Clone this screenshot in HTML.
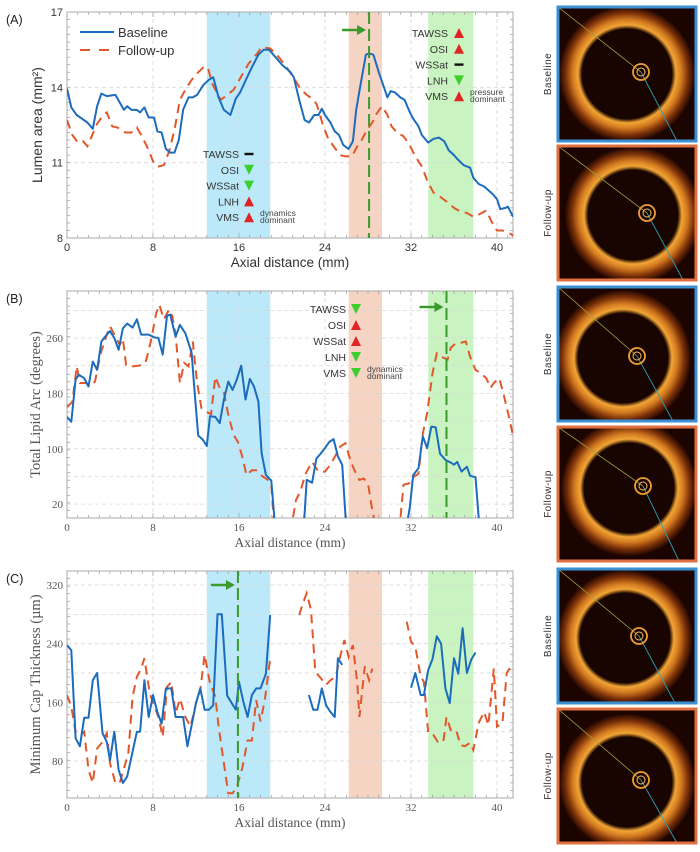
<!DOCTYPE html>
<html><head><meta charset="utf-8"><style>
html,body{margin:0;padding:0;background:#fff;}
svg{display:block;}
</style></head>
<body>
<svg id="fig" width="700" height="852" viewBox="0 0 700 852" xmlns="http://www.w3.org/2000/svg"></svg>
<script>
// ---- data ----
const aBaseX=[0,0.4,0.9,1.4,1.9,2.4,2.8,3.2,3.7,4.5,5.3,5.6,6,6.5,6.8,7.2,7.6,8.1,8.4,8.8,9.2,9.6,10,10.4,10.8,11.3,11.7,12.1,12.7,13.2,13.6,14.1,14.6,15.2,15.7,16.1,16.7,17.2,17.8,18.3,18.8,19.4,20,20.8,21.1,21.6,22.1,22.5,23,23.4,23.7,24,24.5,24.9,25.3,25.7,26.2,26.6,26.9,27.3,27.8,28.1,28.5,29,29.4,29.8,30.1,30.5,31,31.4,31.9,32.2,32.7,33,33.6,34.1,34.6,35.1,35.5,36,36.3,36.9,37.5,37.8,38.3,38.8,39.2,39.6,40,40.3,40.8,41,41.5];
const aBaseY=[13.95,13.2,12.9,12.75,12.6,12.35,13.25,13.75,13.65,13.7,13.1,13.25,13.1,13.1,13.0,13.2,12.8,12.8,12.25,12.2,11.55,11.4,11.4,11.9,13.1,13.6,13.6,13.7,14.1,14.3,14.4,13.6,13.1,12.9,13.55,13.8,14.35,14.8,15.3,15.5,15.5,15.2,14.9,14.6,14.4,13.5,12.7,12.6,12.9,12.9,13.15,12.9,12.6,12.25,12.1,11.7,11.55,11.85,13.1,14.1,15.3,15.35,15.3,14.6,14.1,13.6,13.85,13.8,13.6,13.5,13.0,12.75,12.45,12.1,11.8,11.95,12.0,11.85,11.5,11.3,11.15,10.9,10.8,10.4,10.15,10.05,9.9,9.75,9.55,9.15,9.2,9.25,8.85];
const aFollX=[0,0.5,1,1.5,1.9,2.3,2.8,3.3,3.7,4.2,4.7,5.4,6,6.5,6.9,7.6,8.1,8.5,9,9.5,10,10.5,11,11.6,12.2,12.7,13.1,13.5,14.3,14.9,15.5,16.1,16.9,17.7,18.1,18.9,19.4,19.9,20.5,21.2,21.7,22.3,22.8,23.2,23.4,23.8,24.3,24.8,25.4,25.9,26.5,27,27.4,27.9,28.4,28.8,29.3,29.8,30.2,30.7,31.3,31.8,32.4,33,33.5,34.1,34.7,35.3,36,36.6,37.2,37.8,38.4,39,39.5,40,40.5,41.1,41.5];
const aFollY=[12.7,12.1,11.8,11.85,11.65,12.05,12.55,12.85,13.0,12.45,12.4,12.2,12.2,12.4,12.1,11.5,10.95,10.85,10.9,11.45,12.3,13.5,13.9,14.3,14.6,14.8,14.8,14.15,13.5,13.7,13.9,14.35,14.95,15.35,15.6,15.55,15.35,15.1,14.75,14.3,13.95,13.7,13.55,13.35,13.1,12.5,11.95,11.65,11.3,11.25,11.25,11.65,11.9,12.3,12.6,12.95,13.25,12.9,12.45,12.2,12.05,11.75,11.25,10.85,10.3,9.8,9.65,9.45,9.2,9.05,9.0,8.85,8.95,9.1,8.65,8.3,8.3,8.2,8.1];

const bBaseX=[0,0.4,0.8,1.1,1.6,2.0,2.4,2.8,3.2,3.7,4.0,4.4,4.8,5.2,5.6,6.1,6.5,6.9,7.6,8.1,8.5,8.9,9.3,9.6,10.1,10.5,11.0,11.4,11.6,11.8,12.2,12.6,13,13.3,13.8,14.2,14.6,15.0,15.4,15.8,16.2,16.6,17.0,17.4,17.8,18.1,18.5,19.0,19.4,20,22,22.3,22.8,23.2,23.6,24,24.4,24.8,25.2,25.6,26.0,28,31.5,31.9,32.2,32.7,33.1,33.5,33.9,34.3,34.7,35.2,35.7,36.0,36.3,36.7,37.2,37.5,38.0,38.4];
const bBaseY=[146,139,200,207,202,190,226,214,255,265,270,260,243,274,281,275,287,265,265,261,260,236,292,294,262,279,267,248,238,195,119,114,104,147,146,137,171,197,185,200,220,171,201,190,168,94,62,54,-20,null,-20,55,51,86,93,101,110,114,89,77,-20,null,-20,16,62,72,118,101,132,131,93,84,80,77,81,67,74,61,59,-20];
const bFollX=[0,0.5,0.9,1.2,1.7,2.2,2.6,3.1,3.6,4.0,4.5,4.9,5.2,5.5,6.0,6.7,7.3,7.8,8.3,8.6,9.0,9.5,9.8,10.1,10.5,10.9,11.3,11.7,12.1,12.5,12.9,13.4,13.8,14.2,14.6,15.0,15.5,15.9,16.3,16.7,17.2,17.6,18.2,18.6,19.0,19.3,20,20.8,21.3,21.7,22.2,22.8,23.4,24.0,24.5,25.0,25.4,25.9,26.4,26.8,27.2,27.6,28.0,28.4,28.8,30,30.9,31.3,31.8,32.3,32.7,33.1,33.5,34.0,34.4,34.8,35.4,35.7,36.2,36.6,37.1,37.5,38.0,38.5,39.0,39.4,39.7,40.2,40.6,41.1,41.5];
const bFollY=[160,168,219,195,195,192,197,236,260,277,262,250,259,221,219,220,224,255,296,308,287,301,291,265,195,224,219,255,195,159,154,150,204,188,181,149,120,110,89,62,69,69,60,56,48,-20,null,-20,26,38,64,81,67,67,77,91,103,108,81,67,55,57,50,11,-20,null,-20,48,50,60,64,122,151,209,238,233,229,246,253,253,255,233,214,209,202,188,195,202,180,147,118];

const cBaseX=[0,0.4,0.8,1.2,1.6,2.0,2.4,2.8,3.3,3.7,4.0,4.4,4.8,5.2,5.6,6.0,6.5,6.8,7.2,7.6,8.0,8.4,8.8,9.2,9.7,10.1,10.8,11.2,11.6,12.0,12.4,12.8,13.2,13.6,14.0,14.4,14.9,15.7,16.0,16.4,16.8,17.2,17.6,18.0,18.5,18.9,20,22.5,22.9,23.3,23.7,24.1,24.5,24.9,25.2,25.6,28,32.0,32.4,32.9,33.2,33.6,34.0,34.4,34.8,35.2,35.6,36.0,36.4,36.8,37.2,37.6,38.0];
const cBaseY=[238,231,111,100,139,139,190,200,118,106,81,120,68,50,59,86,120,120,190,140,170,147,131,179,179,140,140,100,129,159,179,150,150,156,280,280,169,150,188,161,140,170,179,179,199,279,null,170,150,150,179,156,147,140,220,211,null,180,200,170,170,204,219,250,240,179,159,220,199,261,200,218,228];
const cFollX=[0,0.4,0.8,1.2,1.6,2.0,2.4,2.8,3.3,3.7,4.0,4.5,4.9,5.3,5.7,6.1,6.5,6.9,7.2,7.7,8.1,8.5,8.9,9.3,9.7,10.1,10.5,11.0,11.5,12.0,12.4,12.8,13.3,13.8,14.1,14.5,15.0,15.4,15.8,16.3,16.8,17.2,17.6,18.0,18.4,18.9,20,21.6,21.9,22.3,22.7,23.1,23.6,24.1,24.5,25.0,25.4,25.8,26.2,26.6,27.0,27.2,27.7,28.1,28.4,30,31.6,32.0,32.4,32.9,33.2,33.6,34.1,34.5,35.0,35.3,35.7,36.2,36.6,37.0,37.5,37.8,38.3,38.8,39.2,39.7,40.0,40.5,40.9,41.3];
const cFollY=[170,154,120,115,120,68,50,97,106,118,77,50,50,70,90,168,195,206,220,172,156,140,113,181,188,145,165,140,127,159,177,225,186,168,127,86,36,36,45,70,108,108,163,134,163,220,null,279,293,309,286,202,193,184,190,195,222,245,222,238,186,140,209,190,206,null,270,243,236,195,188,118,115,106,106,140,122,122,102,100,105,95,132,147,129,206,127,131,200,209];

const aTicks=[8,11,14,17];
const bTicks=[20,100,180,260];
const cTicks=[80,160,240,320];
const xTicks=[0,8,16,24,32,40];

// ---- helpers ----
const NS="http://www.w3.org/2000/svg";
const svg=document.getElementById('fig');
function el(tag,attrs,parent,text){const e=document.createElementNS(NS,tag);for(const k in attrs)e.setAttribute(k,attrs[k]);if(text!==undefined)e.textContent=text;(parent||svg).appendChild(e);return e;}
const X0=67,PX=10.75,XR=513;
function xs(v){return X0+v*PX;}
const panels=[
 {id:'a',top:12,bot:238,lo:8,hi:17,ticks:aTicks,grid:[8,11,14,17],font:'sans',ytitle:'Lumen area (mm²)',bx:aBaseX,by:aBaseY,fx:aFollX,fy:aFollY,label:'(A)'},
 {id:'b',top:291,bot:518,lo:0,hi:20+(504-291)/0.6917,ticks:bTicks,grid:[20,60,100,140,180,220,260,300],font:'serif',ytitle:'Total Lipid Arc (degrees)',bx:bBaseX,by:bBaseY,fx:bFollX,fy:bFollY,label:'(B)'},
 {id:'c',top:571,bot:798,lo:80-(798-761)/0.7333,hi:80+(761-571)/0.7333,ticks:cTicks,grid:[80,120,160,200,240,280,320],font:'serif',ytitle:'Minimum Cap Thickness (µm)',bx:cBaseX,by:cBaseY,fx:cFollX,fy:cFollY,label:'(C)'}
];
panels.forEach(p=>{p.ys=v=>p.bot-(v-p.lo)/(p.hi-p.lo)*(p.bot-p.top);});

const bands=[[13,18.9,'#bce9f9','band-blue'],[26.2,29.3,'#f6d4c4','band-salmon'],[33.6,37.8,'#caf3c2','band-green']];

panels.forEach(p=>{
 const g=el('g',{});
 
 
 const clip=el('clipPath',{id:'clip'+p.id},g);
 el('rect',{x:X0,y:p.top,width:XR-X0,height:p.bot-p.top},clip);
 bands.forEach(b=>{
  const r=el('rect',{x:xs(b[0]),y:p.top,width:xs(b[1])-xs(b[0]),height:p.bot-p.top,fill:b[2]},g);
  
  
 });
 xTicks.forEach(t=>{if(t>0)el('line',{x1:xs(t),x2:xs(t),y1:p.top,y2:p.bot,stroke:'#d8d8d8','stroke-dasharray':'4,3','stroke-width':0.8},g);});
 p.grid.forEach(t=>{el('line',{x1:X0,x2:XR,y1:p.ys(t),y2:p.ys(t),stroke:'#d8d8d8','stroke-dasharray':'4,3','stroke-width':0.8},g);});
 for(let m=0;m<=41.5;m+=1){const L=(m%8===0)?5:3;el('line',{x1:xs(m),x2:xs(m),y1:p.bot,y2:p.bot-L,stroke:'#999','stroke-width':0.7},g);el('line',{x1:xs(m),x2:xs(m),y1:p.top,y2:p.top+L,stroke:'#999','stroke-width':0.7},g);}
 for(let k=0;k<=30;k++){const y=p.top+k*(p.bot-p.top)/30;el('line',{x1:X0,x2:X0+3,y1:y,y2:y,stroke:'#999','stroke-width':0.7},g);el('line',{x1:XR,x2:XR-3,y1:y,y2:y,stroke:'#999','stroke-width':0.7},g);}
 el('rect',{x:X0,y:p.top,width:XR-X0,height:p.bot-p.top,fill:'none',stroke:'#aaa','stroke-width':1},g);
 function path(xsArr,ysArr){let d='',pen=false;for(let i=0;i<xsArr.length;i++){const v=ysArr[i];if(v===null){pen=false;continue;}d+=(pen?'L':'M')+xs(xsArr[i]).toFixed(1)+','+p.ys(v).toFixed(1);pen=true;}return d;}
 const fl=el('path',{d:path(p.fx,p.fy),fill:'none',stroke:'#e2572a','stroke-width':2,'stroke-dasharray':'9,6','clip-path':'url(#clip'+p.id+')'},g);
 
 
 const bl=el('path',{d:path(p.bx,p.by),fill:'none',stroke:'#1b6cbd','stroke-width':2,'stroke-linejoin':'round','clip-path':'url(#clip'+p.id+')'},g);
 
 
 const fam=p.font==='sans'?'Liberation Sans, sans-serif':'Liberation Serif, serif';
 const col=p.font==='sans'?'#333':'#555';
 xTicks.forEach(t=>{const tx=el('text',{x:xs(t),y:p.bot+13,'text-anchor':'middle','font-size':11,'font-family':fam,fill:col},g,String(t));
  
  });
 p.ticks.forEach(t=>{const tx=el('text',{x:X0-4,y:p.ys(t)+4,'text-anchor':'end','font-size':11,'font-family':fam,fill:col},g,String(t));
  
  });
 const xt=el('text',{x:290,y:p.bot+29,'text-anchor':'middle','font-size':13.5,'font-family':fam,fill:col},g,'Axial distance (mm)');
 
 
 const cy=(p.top+p.bot)/2;
 const yt=el('text',{x:0,y:0,transform:'translate('+(p.id==='a'?42:40)+','+cy+') rotate(-90)','text-anchor':'middle','font-size':p.id==='a'?14:14.5,'font-family':fam,fill:col},g,p.ytitle);
 
 
 const lb=el('text',{x:6,y:p.top+12,'font-size':12.5,'font-family':'Liberation Sans, sans-serif',fill:'#222'},g,p.label);
 
 
});

// legend (panel A)
const lg=el('g',{});


el('line',{x1:80,x2:114,y1:32,y2:32,stroke:'#1b6cbd','stroke-width':2},lg);
el('text',{x:118,y:37,'font-size':13,'font-family':'Liberation Sans, sans-serif',fill:'#333'},lg,'Baseline');
el('line',{x1:80,x2:114,y1:50,y2:50,stroke:'#e2572a','stroke-width':2,'stroke-dasharray':'10,9'},lg);
el('text',{x:118,y:55,'font-size':13,'font-family':'Liberation Sans, sans-serif',fill:'#333'},lg,'Follow-up');

function vmark(mm,top,bot,ay){
 const g=el('g',{});
 
 
 el('line',{x1:xs(mm),x2:xs(mm),y1:top,y2:bot,stroke:'#3a9a2c','stroke-width':2,'stroke-dasharray':'12,5'},g);
 const x=xs(mm)-3;
 el('line',{x1:x-24,x2:x-7,y1:ay,y2:ay,stroke:'#3a9a2c','stroke-width':2.5},g);
 el('polygon',{points:(x-9)+','+(ay-5)+' '+x+','+ay+' '+(x-9)+','+(ay+5),fill:'#3a9a2c'},g);
}
vmark(28.1,12,238,30);
vmark(35.3,291,518,307);
vmark(15.9,571,798,585);

function tri(g,x,y,kind){
 if(kind==='up')el('polygon',{points:(x-5)+','+(y+5)+' '+(x+5)+','+(y+5)+' '+x+','+(y-5),fill:'#e02424'},g);
 else if(kind==='down')el('polygon',{points:(x-5)+','+(y-5)+' '+(x+5)+','+(y-5)+' '+x+','+(y+5),fill:'#3ccf2e'},g);
 else el('rect',{x:x-4.5,y:y-1.2,width:9,height:2.4,fill:'#111'},g);
}
function alist(tx,mx,y0,dy,kinds,note){
 const g=el('g',{});
 
 
 const names=['TAWSS','OSI','WSSat','LNH','VMS'];
 names.forEach((n,i)=>{const y=y0+i*dy;el('text',{x:tx,y:y+4,'text-anchor':'end','font-size':10.5,'font-family':'Liberation Sans, sans-serif',fill:'#333'},g,n);tri(g,mx,y,kinds[i]);});
 const yl=y0+4*dy;
 el('text',{x:mx+11,y:yl-1,'font-size':8.5,'font-family':'Liberation Sans, sans-serif',fill:'#444'},g,note[0]);
 el('text',{x:mx+11,y:yl+6,'font-size':8.5,'font-family':'Liberation Sans, sans-serif',fill:'#444'},g,note[1]);
}
alist(239,249,154,15.8,['dash','down','down','up','up'],['dynamics','dominant']);
alist(448,459,33,15.8,['up','up','dash','down','up'],['pressure','dominant']);
alist(346,356,309,16,['down','up','up','down','down'],['dynamics','dominant']);

// OCT thumbnails
const frames=[[7,'Baseline','#3b8fd3'],[146,'Follow-up','#e07040'],[287,'Baseline','#3b8fd3'],[427,'Follow-up','#e07040'],[569,'Baseline','#3b8fd3'],[709,'Follow-up','#e07040']];
const defs=el('defs',{});
const rg=el('radialGradient',{id:'ring',cx:'0.5',cy:'0.5',r:'0.5'},defs);
el('stop',{'offset':'0.66','stop-color':'#180400'},rg);
el('stop',{'offset':'0.72','stop-color':'#f2a535'},rg);
el('stop',{'offset':'0.8','stop-color':'#d27a20'},rg);
el('stop',{'offset':'0.9','stop-color':'#7a3008'},rg);
el('stop',{'offset':'1','stop-color':'#200600'},rg);
const offs=[[0,0],[6,2],[-4,4],[2,-6],[-2,2],[0,6]];
frames.forEach((f,i)=>{
 const g=el('g',{});
 
 
 const x=558,y=f[0],w=138,h=134;
 const cp=el('clipPath',{id:'oct'+i},g);
 el('rect',{x:x,y:y,width:w,height:h},cp);
 el('rect',{x:x,y:y,width:w,height:h,fill:'#1c0500'},g);
 const ig=el('g',{'clip-path':'url(#oct'+i+')'},g);
 const cx=x+w/2+offs[i][0],cy=y+h/2+offs[i][1];
 el('circle',{cx:cx,cy:cy,r:68,fill:'url(#ring)'},ig);
 el('line',{x1:x,y1:y,x2:cx+14,y2:cy-2,stroke:'#a0a040','stroke-width':0.8},ig);
 el('line',{x1:cx+14,y1:cy-2,x2:cx+50,y2:y+h,stroke:'#2aa0b8','stroke-width':0.9},ig);
 el('circle',{cx:cx+14,cy:cy-2,r:8,fill:'none',stroke:'#f0a030','stroke-width':1.8},ig);
 el('circle',{cx:cx+14,cy:cy-2,r:4,fill:'none',stroke:'#f5c060','stroke-width':1},ig);
 el('rect',{x:x,y:y,width:w,height:h,fill:'none',stroke:f[2],'stroke-width':3},g);
 const t=el('text',{x:0,y:0,transform:'translate(551,'+(y+h/2)+') rotate(-90)','text-anchor':'middle','font-size':10,'font-family':'Liberation Sans, sans-serif',fill:'#333','letter-spacing':'0.5'},g,f[1]);
 
 
});
</script>
</body></html>
